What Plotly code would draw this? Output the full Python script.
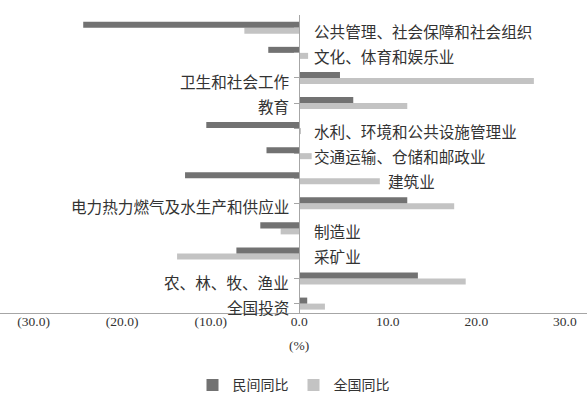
import plotly.graph_objects as go

# Data (top to bottom as shown in the chart)
categories = [
    "公共管理、社会保障和社会组织",
    "文化、体育和娱乐业",
    "卫生和社会工作",
    "教育",
    "水利、环境和公共设施管理业",
    "交通运输、仓储和邮政业",
    "建筑业",
    "电力热力燃气及水生产和供应业",
    "制造业",
    "采矿业",
    "农、林、牧、渔业",
    "全国投资",
]
private_yoy = [-24.4, -3.5, 4.6, 6.1, -10.5, -3.7, -12.9, 12.2, -4.4, -7.1, 13.4, 0.9]
national_yoy = [-6.2, 1.0, 26.5, 12.2, 0.2, 1.4, 9.1, 17.5, -2.1, -13.8, 18.8, 2.9]
series_names = ["民间同比", "全国同比"]
tick_values = [-30, -20, -10, 0, 10, 20, 30]
tick_labels = ["(30.0)", "(20.0)", "(10.0)", "0.0", "10.0", "20.0", "30.0"]
axis_unit = "(%)"

n = len(categories)
ypos = [n - 1 - i for i in range(n)]  # top category at highest y

DARK = "#727272"
LIGHT = "#c3c3c3"
AXIS = "#a6a6a6"
TEXT = "#333333"
CJK = "Noto Sans CJK SC, Liberation Serif, serif"
SERIF = "Liberation Serif, Noto Sans CJK SC, serif"

fig = go.Figure()
# light trace first so it sits below the dark bar in each group
fig.add_trace(go.Bar(
    y=ypos, x=national_yoy, orientation="h", name=series_names[1],
    marker=dict(color=LIGHT, line=dict(width=0)), legendrank=2,
))
fig.add_trace(go.Bar(
    y=ypos, x=private_yoy, orientation="h", name=series_names[0],
    marker=dict(color=DARK, line=dict(width=0)), legendrank=1,
))

xr = [-33.8, 32.5]
yaxis_pos = (0 - xr[0]) / (xr[1] - xr[0])

annotations = []
for cat, y, p, q in zip(categories, ypos, private_yoy, national_yoy):
    if p > 0:
        annotations.append(dict(x=0, y=y, xref="x", yref="y", text=cat,
                                showarrow=False, xanchor="right", xshift=-8, yshift=-3,
                                font=dict(family=CJK, size=15.6, color=TEXT)))
    else:
        if q > 5:
            annotations.append(dict(x=q, y=y, xref="x", yref="y", text=cat,
                                    showarrow=False, xanchor="left", xshift=6, yshift=-3,
                                    font=dict(family=CJK, size=15.6, color=TEXT)))
        else:
            annotations.append(dict(x=0, y=y, xref="x", yref="y", text=cat,
                                    showarrow=False, xanchor="left", xshift=13, yshift=-3,
                                    font=dict(family=CJK, size=15.6, color=TEXT)))

annotations.append(dict(x=0, y=-0.108, xref="x", yref="paper", text=axis_unit,
                        showarrow=False, xanchor="center", yanchor="middle",
                        font=dict(family=SERIF, size=13.5, color=TEXT)))

fig.update_layout(
    width=587, height=397,
    margin=dict(l=0, r=0, t=15, b=84, autoexpand=False),
    paper_bgcolor="white", plot_bgcolor="white",
    barmode="group", bargap=0.52, bargroupgap=0,
    showlegend=True,
    legend=dict(orientation="h", x=0.5, xanchor="center", y=-0.243, yanchor="middle",
                font=dict(family=CJK, size=14, color=TEXT),
                itemwidth=30, itemsizing="constant", traceorder="normal"),
    xaxis=dict(range=xr, tickvals=tick_values, ticktext=tick_labels, automargin=False,
               showgrid=False, zeroline=False, showline=True, linecolor=AXIS, linewidth=1,
               ticks="", ticklen=0, ticklabelstandoff=-4,
               tickfont=dict(family=SERIF, size=13.5, color=TEXT)),
    yaxis=dict(range=[-0.375, 11.51], anchor="free", position=yaxis_pos, automargin=False,
               tickvals=ypos, showticklabels=False, ticks="outside", ticklen=5,
               tickcolor=AXIS, showline=True, linecolor=AXIS, linewidth=1,
               showgrid=False, zeroline=False),
    annotations=annotations,
)

fig.write_html("out.html", config={"displayModeBar": False},
               post_script="document.body.style.margin='0';document.body.style.padding='0';")
